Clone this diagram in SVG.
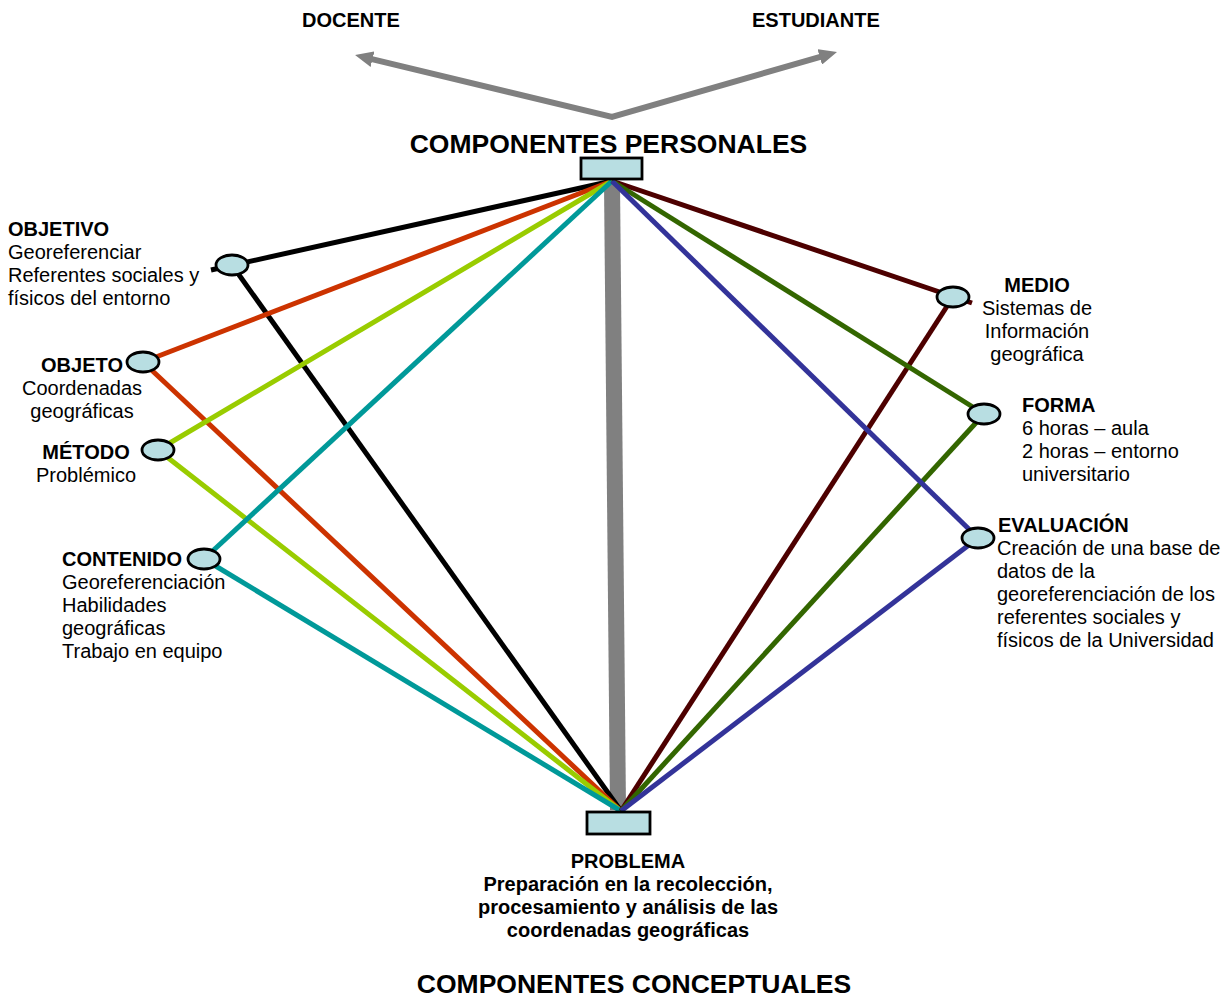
<svg xmlns="http://www.w3.org/2000/svg" width="1232" height="999" viewBox="0 0 1232 999">
<style>
text{font-family:"Liberation Sans",Arial,sans-serif;fill:#000}
.t{font-size:20px}
.b{font-size:20px;font-weight:bold}
.h{font-size:26.5px;font-weight:bold}
.c{text-anchor:middle}
.node{fill:#B8DEE2;stroke:#000;stroke-width:2.8}
.ln{fill:none;stroke-width:5}
</style>
<defs>
<marker id="ah" viewBox="0 0 18 16" refX="6" refY="8" markerWidth="18" markerHeight="16" markerUnits="userSpaceOnUse" orient="auto-start-reverse">
<path d="M0,0 L18,8 L0,16 z" fill="#808080"/>
</marker>
</defs>
<rect width="1232" height="999" fill="#fff"/>

<g id="connectors">
<polyline points="366.7,57.8 612,117 825.5,55.3" fill="none" stroke="#808080" stroke-width="6" stroke-linejoin="miter" marker-start="url(#ah)" marker-end="url(#ah)"/>
<line x1="612" y1="183" x2="618" y2="810" stroke="#808080" stroke-width="16"/>
<line class="ln" x1="612" y1="181" x2="211" y2="270" stroke="#000"/>
<line class="ln" x1="232" y1="265" x2="621" y2="811" stroke="#000"/>
<line class="ln" x1="612" y1="181" x2="143" y2="362" stroke="#CC3300"/>
<line class="ln" x1="143" y1="362" x2="621" y2="811" stroke="#CC3300"/>
<line class="ln" x1="612" y1="181" x2="158" y2="450" stroke="#99CC00"/>
<line class="ln" x1="158" y1="450" x2="621" y2="811" stroke="#99CC00"/>
<line class="ln" x1="612" y1="181" x2="204" y2="559" stroke="#009999"/>
<line class="ln" x1="204" y1="559" x2="621" y2="811" stroke="#009999"/>
<line class="ln" x1="612" y1="181" x2="972" y2="303" stroke="#4D0000"/>
<line class="ln" x1="953" y1="297" x2="621" y2="811" stroke="#4D0000"/>
<line class="ln" x1="612" y1="181" x2="984" y2="414" stroke="#336600"/>
<line class="ln" x1="984" y1="414" x2="621" y2="811" stroke="#336600"/>
<line class="ln" x1="612" y1="181" x2="978" y2="538" stroke="#333399"/>
<line class="ln" x1="978" y1="538" x2="621" y2="811" stroke="#333399"/>
</g>

<g id="docente"><text class="b" x="302" y="27">DOCENTE</text></g>
<g id="estudiante"><text class="b" x="752" y="27">ESTUDIANTE</text></g>

<g id="componentes-personales">
<text class="h c" x="608.5" y="153">COMPONENTES PERSONALES</text>
<rect class="node" x="581" y="158" width="61" height="21"/>
</g>

<g id="objetivo">
<ellipse class="node" cx="232" cy="265" rx="16" ry="10"/>
<text class="b" x="8" y="236">OBJETIVO</text>
<text class="t" x="8" y="259">Georeferenciar</text>
<text class="t" x="8" y="282">Referentes sociales y</text>
<text class="t" x="8" y="305">físicos del entorno</text>
</g>

<g id="objeto">
<ellipse class="node" cx="143" cy="362" rx="16" ry="10"/>
<text class="b c" x="82" y="372">OBJETO</text>
<text class="t c" x="82" y="395">Coordenadas</text>
<text class="t c" x="82" y="418">geográficas</text>
</g>

<g id="metodo">
<ellipse class="node" cx="158" cy="450" rx="16" ry="10"/>
<text class="b c" x="86" y="459">MÉTODO</text>
<text class="t c" x="86" y="482">Problémico</text>
</g>

<g id="contenido">
<ellipse class="node" cx="204" cy="559" rx="16" ry="10"/>
<text class="b" x="62" y="566">CONTENIDO</text>
<text class="t" x="62" y="589">Georeferenciación</text>
<text class="t" x="62" y="612">Habilidades</text>
<text class="t" x="62" y="635">geográficas</text>
<text class="t" x="62" y="658">Trabajo en equipo</text>
</g>

<g id="medio">
<ellipse class="node" cx="953" cy="297" rx="16" ry="10"/>
<text class="b c" x="1037" y="292">MEDIO</text>
<text class="t c" x="1037" y="315">Sistemas de</text>
<text class="t c" x="1037" y="338">Información</text>
<text class="t c" x="1037" y="361">geográfica</text>
</g>

<g id="forma">
<ellipse class="node" cx="984" cy="414" rx="16" ry="10"/>
<text class="b" x="1022" y="412">FORMA</text>
<text class="t" x="1022" y="435">6 horas – aula</text>
<text class="t" x="1022" y="458">2 horas – entorno</text>
<text class="t" x="1022" y="481">universitario</text>
</g>

<g id="evaluacion">
<ellipse class="node" cx="978" cy="538" rx="16" ry="10"/>
<text class="b" x="998" y="532">EVALUACIÓN</text>
<text class="t" x="997" y="555">Creación de una base de</text>
<text class="t" x="997" y="578">datos de la</text>
<text class="t" x="997" y="601">georeferenciación de los</text>
<text class="t" x="997" y="624">referentes sociales y</text>
<text class="t" x="997" y="647">físicos de la Universidad</text>
</g>

<g id="problema">
<rect class="node" x="587" y="812" width="63" height="22"/>
<text class="b c" x="628" y="868">PROBLEMA</text>
<text class="b c" x="628" y="891">Preparación en la recolección,</text>
<text class="b c" x="628" y="914">procesamiento y análisis de las</text>
<text class="b c" x="628" y="937">coordenadas geográficas</text>
</g>

<g id="componentes-conceptuales">
<text class="h c" x="634" y="993">COMPONENTES CONCEPTUALES</text>
</g>
</svg>
